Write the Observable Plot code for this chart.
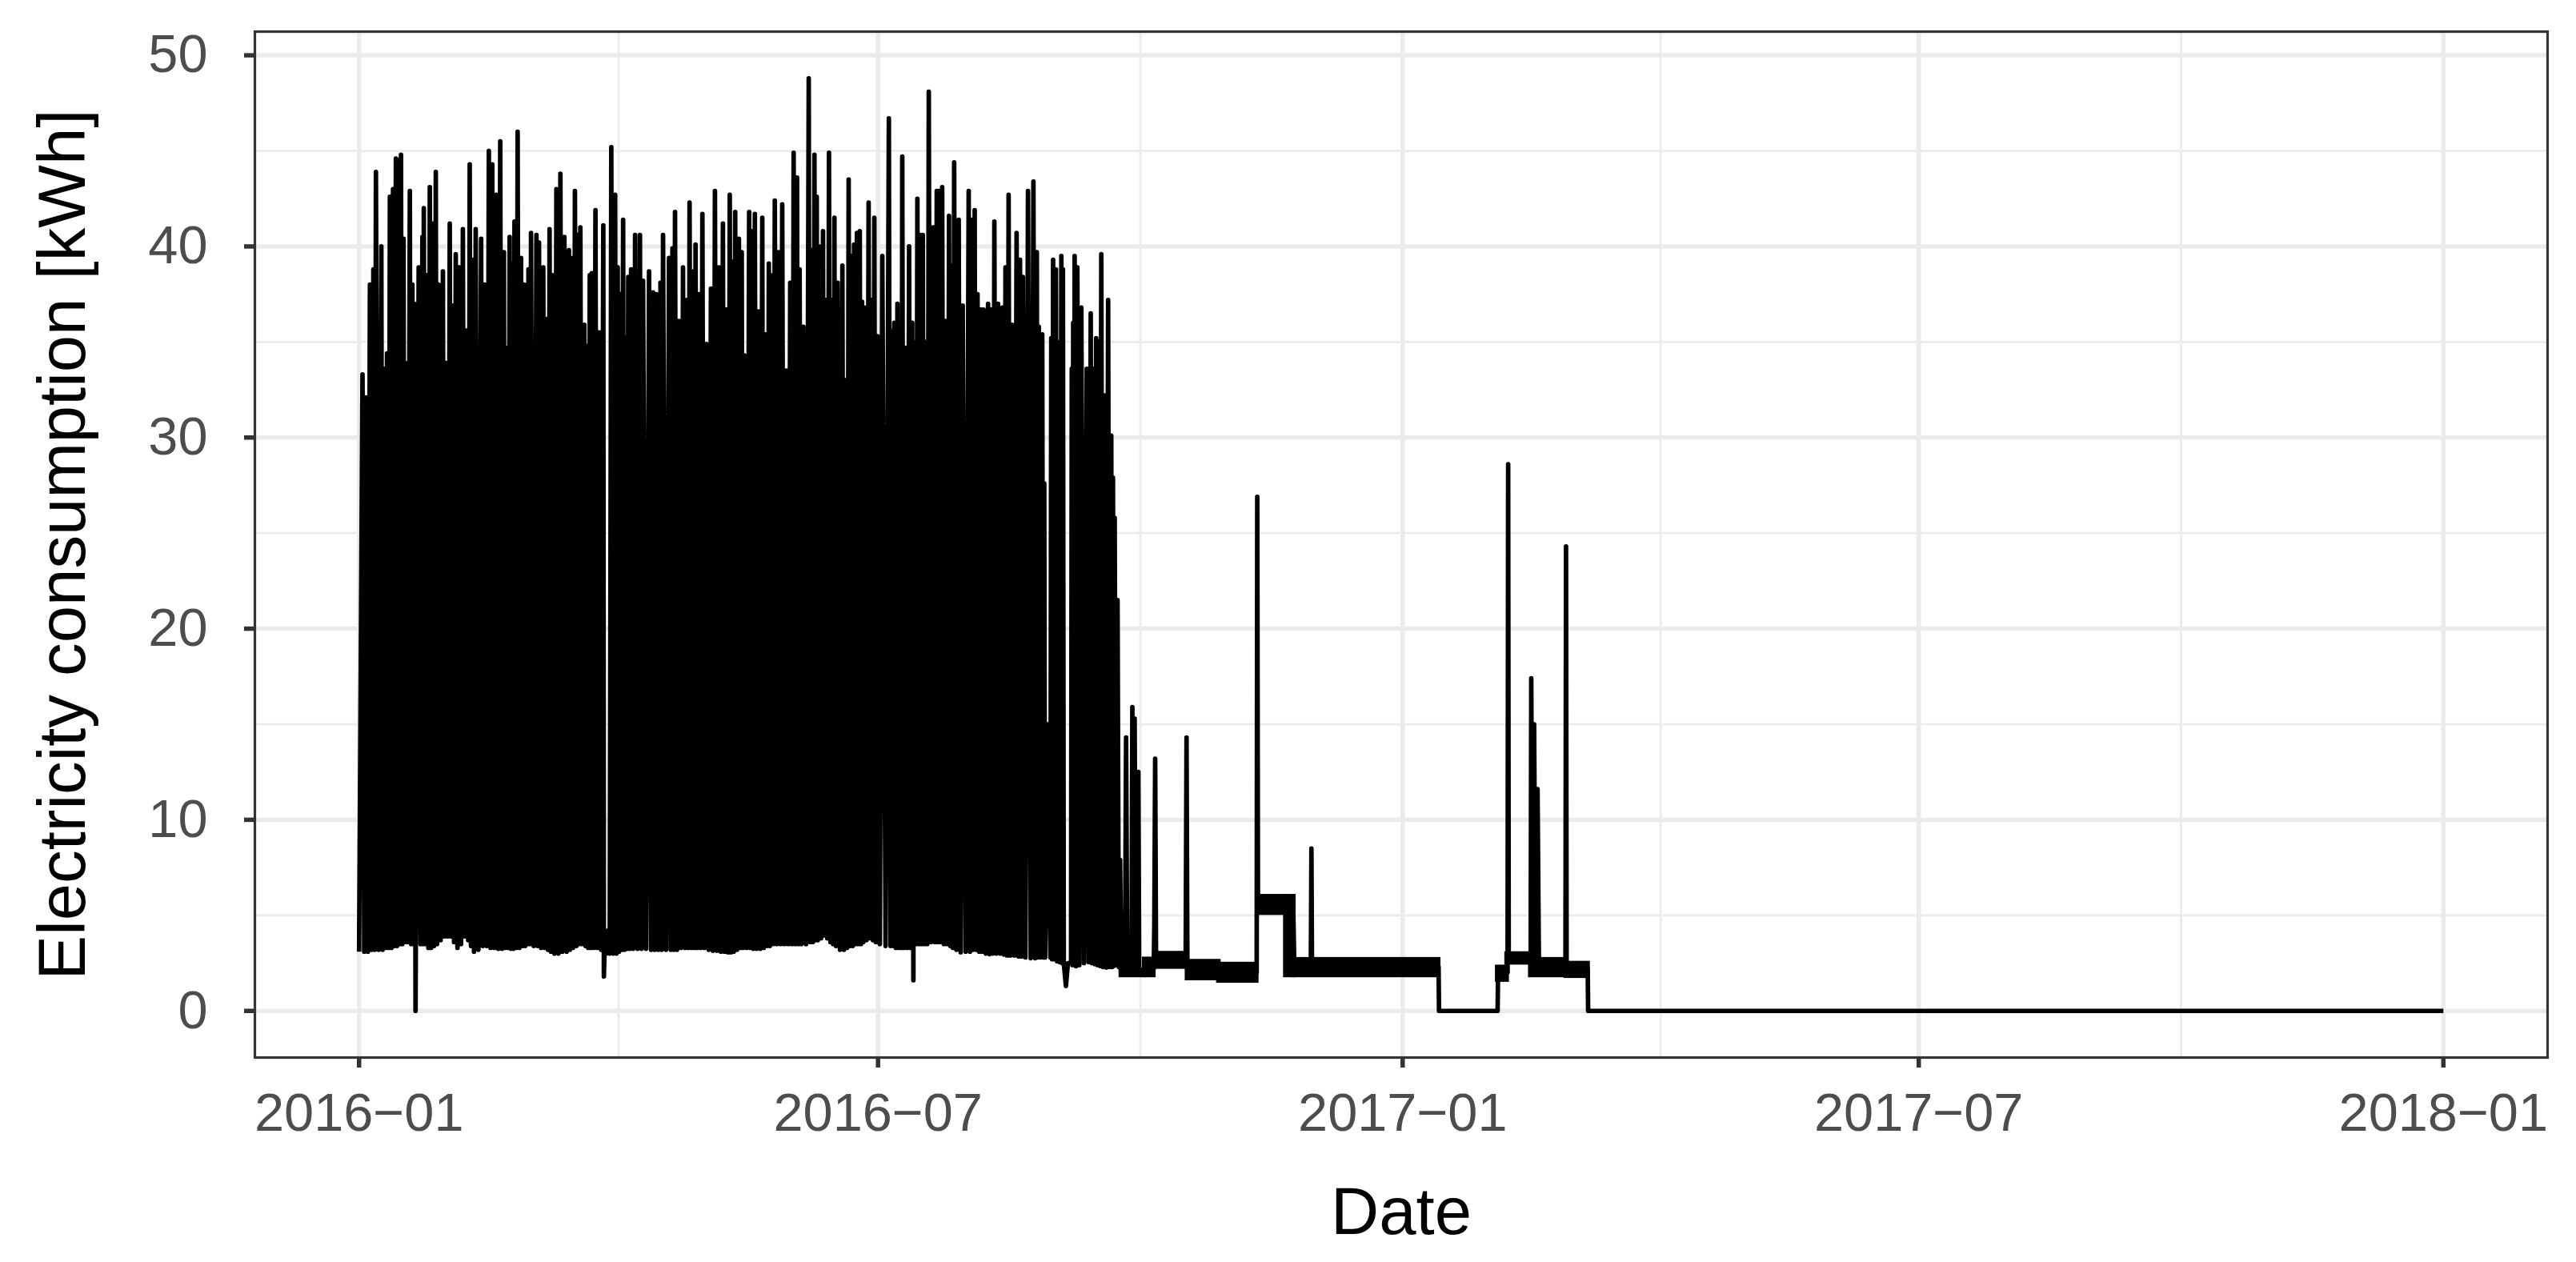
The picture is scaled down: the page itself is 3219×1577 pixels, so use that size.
<!DOCTYPE html>
<html>
<head>
<meta charset="utf-8">
<script src="https://cdn.jsdelivr.net/npm/d3@7"></script>
<script src="https://cdn.jsdelivr.net/npm/@observablehq/plot@0.6"></script>
<style>
  html, body { margin: 0; padding: 0; background: #ffffff; }
</style>
</head>
<body>
<div id="chart"></div>
<script>
// ---------------- DATA ----------------
const startDate = "2016-01-01";

// Consumption readings (peaks and overnight base load):
// [day offset from 1 Jan 2016, kWh]
const winter2016 = [
  [0,3.1],[1.2,33.3],[1.8,3.1],[2.4,32.1],[3.1,3.1],[3.8,38.0],[4.4,3.2],[5.0,38.8],[5.45,3.2],[5.9,43.9],
  [6.85,3.2],[7.8,40.0],[8.25,3.2],[8.7,33.6],[9.25,3.3],[9.8,34.4],[10.3,3.3],[10.8,42.6],[11.35,3.3],[11.9,43.0],
  [12.4,3.4],[12.9,44.6],[13.3,3.4],[13.7,44.5],[14.2,3.5],[14.7,44.8],[15.15,3.5],[15.6,40.4],[15.9,3.6],[16.2,33.9],
  [17.0,3.6],[17.8,42.9],[18.25,3.5],[18.7,38.0],[19.05,3.5],[19.4,37.0],[19.8,0],[20.9,38.9],[21.55,3.5],[22.2,40.5],
  [22.45,3.5],[22.7,42.0],[23.25,3.5],[23.8,38.5],[24.3,3.3],[24.8,43.1],[25.25,3.3],[25.7,41.2],[26.3,3.4],[26.9,43.9],
  [27.35,3.5],[27.8,38.0],[28.6,3.7],[29.4,38.7],[29.9,3.9],[30.4,33.9],[31.1,3.9],[31.8,41.2],[32.25,3.9],[32.7,36.9],
  [33.3,3.6],[33.9,39.6],[34.5,3.3],[35.1,38.9],[35.75,3.5],[36.4,40.9],[37.05,3.9],[37.7,35.6],[38.25,3.7],[38.8,44.3],
  [39.25,3.4],[39.7,39.3],[40.3,3.1],[40.9,40.9],[41.85,3.2],[42.8,40.4],[43.4,3.4],[44.0,38.0],[44.75,3.4],[45.5,45.0],
  [46.1,3.3],[46.7,44.3],[47.4,3.3],[48.1,42.7],[48.8,3.25],[49.5,45.5],[50.15,3.25],[50.8,39.7],[51.1,3.3],[51.4,34.7],
  [52.1,3.3],[52.8,40.5],[53.25,3.25],[53.7,39.1],[54.1,3.25],[54.5,41.3],[55.05,3.3],[55.6,46.0],[56.2,3.3],[56.8,39.4],
  [57.35,3.4],[57.9,38.0],[58.25,3.4],[58.6,34.7],[59.0,3.5],[59.4,38.8],[59.85,3.5],[60.3,40.7],[61.25,3.4],[62.2,40.6],
  [62.65,3.4],[63.1,40.2],[63.85,3.3],[64.6,38.9],[65.15,3.3],[65.7,36.2],[66.25,3.2],[66.8,40.9],[67.3,3.1]
];
const spring2016 = [
  [67.8,38.5],[68.5,3.0],[69.2,43.0],[69.9,3.0],[70.6,43.8],[71.3,3.1],[72.0,40.5],[72.8,3.1],[73.6,39.8],[73.95,3.2],
  [74.3,39.4],[75.0,3.3],[75.7,42.9],[76.2,3.4],[76.7,40.6],[77.15,3.5],[77.6,41.0],[78.3,3.5],[79.0,35.9],[79.4,3.4],
  [79.8,34.8],[80.35,3.3],[80.9,38.5],[81.25,3.3],[81.6,38.6],[82.25,3.3],[82.9,41.9],[83.55,3.3],[84.2,35.5],[84.9,3.2],
  [85.65,41.1],[85.85,1.8],[86.3,4.2],[86.8,3.0],[87.35,4.2],[87.9,3.0],[88.45,45.2],[89.1,3.0],[89.8,42.7],[90.25,3.0],
  [90.7,38.9],[91.15,3.1],[91.6,37.5],[92.1,3.2],[92.6,41.4],[93.05,3.2],[93.5,35.2],[93.95,3.25],[94.4,38.4],[94.9,3.25],
  [95.4,38.8],[96.1,3.25],[96.8,40.6],[97.65,3.25],[98.5,40.6],[99.05,3.25],[99.6,38.2],[100.65,3.25],[101.7,38.7],[102.4,3.2],
  [103.1,37.6],[103.65,3.2],[104.2,37.5],[104.95,3.2],[105.7,38.1],[106.15,3.2],[106.6,40.6],[107.65,3.2],[108.7,39.4],[109.3,3.2],
  [109.9,39.9],[110.35,3.2],[110.8,41.8],[111.5,3.2],[112.2,36.1],[112.9,3.3],[113.6,38.9],[114.3,3.3],[115.0,37.2],[115.45,3.3],
  [115.9,42.3],[116.6,3.3],[117.3,38.7],[117.65,3.3],[118.0,40.1],[118.6,3.3],[119.2,37.5],[119.8,3.3],[120.4,41.7],[121.1,3.3],
  [121.8,34.9],[122.6,3.2],[123.4,37.8],[124.1,3.15],[124.8,42.9],[125.5,3.15],[126.2,38.9],[126.9,3.1],[127.6,41.2],[128.15,3.1],
  [128.7,36.7],[129.35,3.07],[130.0,42.7],[130.45,3.07],[130.9,39.2],[131.4,3.1],[131.9,41.8],[132.55,3.2],[133.2,40.4],[133.7,3.3],
  [134.2,39.7],[134.65,3.3],[135.1,34.3],[135.95,3.3],[136.8,41.8],[137.25,3.3]
];
const summer2016 = [
  [137.7,40.8],[138.25,3.25],[138.8,41.7],[139.4,3.25],[140.0,36.6],[140.7,3.25],[141.4,41.5],[141.9,3.3],[142.4,35.4],[143.05,3.4],
  [143.7,39.1],[144.05,3.4],[144.4,38.5],[145.1,3.5],[145.8,42.4],[146.45,3.5],[147.1,39.7],[147.75,3.5],[148.4,42.2],[149.1,3.5],
  [149.8,33.5],[150.5,3.5],[151.2,38.1],[151.8,3.5],[152.4,44.9],[153.0,3.5],[153.6,43.6],[154.05,3.5],[154.5,38.8],[155.15,3.5],
  [155.8,35.8],[156.75,3.5],[157.7,48.8],[158.15,3.6],[158.6,39.8],[159.15,3.6],[159.7,44.8],[160.1,3.7],[160.5,42.6],[160.9,3.7],
  [161.3,40.0],[162.0,3.8],[162.7,40.8],[163.15,3.95],[163.6,37.2],[164.2,3.8],[164.8,44.9],[165.3,3.6],[165.8,37.2],[166.25,3.5],
  [166.7,41.5],[167.25,3.4],[167.8,38.1],[168.65,3.2],[169.5,39.0],[170.05,3.2],[170.6,33.0],[171.15,3.3],[171.7,43.5],[172.2,3.4],
  [172.7,39.5],[173.15,3.4],[173.6,40.1],[174.1,3.5],[174.6,40.7],[175.1,3.5],[175.6,40.8],[176.0,3.5],[176.4,37.1],[176.8,3.6],
  [177.2,36.8],[177.95,3.7],[178.7,42.3],[179.2,3.8],[179.7,37.2],[180.2,3.7],[180.7,41.5],[181.25,3.6],[181.8,35.3],[182.65,3.5],
  [183.5,39.5],[184.65,3.4],[185.8,46.7],[186.4,3.4],[187.0,35.6],[187.35,3.4],[187.7,36.0],[188.25,3.3],[188.8,37.0],[189.3,3.3],
  [189.8,34.7],[190.15,3.3],[190.5,44.7],[191.05,3.3],[191.6,34.7],[192.25,3.3],[192.9,40.0],[193.45,3.3],[194.0,36.0],[194.4,1.6],
  [194.75,35.0],[195.3,3.5],[195.8,42.5],[196.3,3.5],[196.8,40.6],[197.25,3.5],[197.7,40.6],[198.2,3.5],[198.7,35.0],[199.25,3.5],
  [199.8,48.1],[200.55,3.6],[201.3,41.0],[201.95,3.6],[202.6,42.9],[202.95,3.6],[203.3,42.9],[203.9,3.6],[204.5,43.1],[205.1,3.5],
  [205.7,36.1],[206.3,3.5],[206.9,41.6],[207.35,3.4]
];
const lateSummer2016 = [
  [207.8,39.0],[208.25,3.3],[208.7,44.4],[209.5,3.2],[210.3,41.4],[211.0,3.07],[211.7,36.9],[212.75,3.1],[213.8,42.9],[214.25,3.1],
  [214.7,41.4],[215.3,3.2],[215.9,41.9],[216.4,3.2],[216.9,37.5],[217.5,3.1],[218.1,36.7],[218.55,3.1],[219.0,36.7],[219.8,3.0],
  [220.6,37.0],[221.1,2.97],[221.6,36.7],[222.2,3.0],[222.8,41.3],[223.45,3.0],[224.1,37.0],[224.85,3.0],[225.6,36.8],[226.15,2.95],
  [226.7,38.9],[227.25,2.9],[227.8,42.7],[228.4,2.9],[229.0,35.9],[229.8,2.9],[230.6,40.7],[231.2,2.85],[231.8,39.3],[232.3,2.85],
  [232.8,38.4],[233.7,2.8],[234.6,42.9],[235.55,2.76],[236.5,43.4],[237.1,2.76],[237.7,39.7],[238.05,2.8],[238.4,35.8],[239.0,2.8],
  [239.6,35.4],[239.95,2.8],[240.3,27.6],[240.6,2.8],[241.5,15.0],[242.45,2.8],[242.75,35.2],[243.05,2.7],[243.4,39.3],[243.9,2.7],
  [244.4,38.8],[244.8,2.6],[245.2,35.0],[245.75,2.55],[246.3,39.5],[246.6,2.5],[246.85,38.8],[247.15,2.5],[247.9,1.3],[248.6,2.5],
  [249.7,2.5],[249.95,33.6],[250.2,2.4],[250.45,36.0],[250.7,2.4],[250.95,39.5],[251.45,2.34],[251.9,38.9],[252.6,2.4],[253.3,36.8],
  [254.25,2.5],[255.2,33.6],[255.9,2.55],[256.6,36.5],[257.05,2.5],[257.5,33.6],[258.0,2.45],[258.5,35.2],[258.95,2.4],[259.4,35.0],
  [259.85,2.35],[260.3,39.6],[260.9,2.3],[261.5,32.2],[262.1,2.27],[262.7,37.2],[263.25,2.3],[263.8,30.1],[264.1,2.3],[264.4,27.9],
  [264.7,2.35],[265.0,25.8],[265.5,2.4],[266.0,21.5],[266.45,2.3],[266.9,7.9],[267.3,2.2]
];
const lowLoad = [
  [268.6,2.0],[269.0,14.3],[269.4,2.0],[270.9,2.0],[271.2,15.9],[271.6,2.2],[272.0,15.3],[272.4,2.1],[273.0,2.1],[273.3,12.5],
  [273.6,2.0],[278.7,2.2],[278.9,4.5],[279.2,13.2],[279.5,2.8],[289.9,2.7],[290.2,14.3],[290.5,2.2],[314.8,2.0],[315.0,26.9],[315.25,5.5],
  [327.6,5.5],[328.0,2.3],[333.8,2.3],[334.0,8.5],[334.2,2.3],[378.6,2.3],[378.75,0],[399.3,0],[399.45,1.9],[402.8,2.0],
  [403.0,28.6],[403.2,2.7],[410.9,2.7],[411.1,17.4],[411.5,2.5],[412.1,15.0],[412.6,2.5],[413.3,11.6],[413.8,2.3],[423.1,2.2],
  [423.3,24.3],[423.5,2.2],[430.9,2.2],[431.05,0],[731,0]
];

// Daily min/max band of the hourly line during the low-load period
const bandFrom = [267.3, 275.5, 279.5, 290.5, 301.5, 315.2, 325.0, 327.8, 399.3, 402.6, 410.9, 423.3];
const bandTo   = [275.5, 278.7, 289.9, 301.5, 314.8, 325.0, 327.8, 378.6, 402.6, 410.9, 423.3, 431.0];
const bandLow  = [1.86, 1.86, 2.30, 1.70, 1.57, 5.12, 1.86, 1.86, 1.62, 2.52, 1.86, 1.82];
const bandHigh = [2.13, 2.70, 3.00, 2.58, 2.43, 5.98, 5.98, 2.68, 2.28, 2.98, 2.68, 2.48];

// Axes
const xTicks = ["2016-01-01", "2016-07-01", "2017-01-01", "2017-07-01", "2018-01-01"];
const xTickLabels = ["2016\u221201", "2016\u221207", "2017\u221201", "2017\u221207", "2018\u221201"];
const xMinor = ["2016-04-01", "2016-10-01", "2017-04-01T12:00:00Z", "2017-10-01"];
const yTicks = [0, 10, 20, 30, 40, 50];
const yMinor = [5, 15, 25, 35, 45];
const xLabel = "Date";
const yLabel = "Electricity consumption [kWh]";

// ---------------- BUILD ----------------
const DAY = 86400000;
const t0 = +new Date(startDate);
const toDate = d => new Date(t0 + d * DAY);

const series = [...winter2016, ...spring2016, ...summer2016, ...lateSummer2016, ...lowLoad]
  .map(([d, v]) => ({date: toDate(d), kwh: v}));
const bands = bandFrom.map((f, i) => ({x1: toDate(f), x2: toDate(bandTo[i]), y1: bandLow[i], y2: bandHigh[i]}));

const xTickDates = xTicks.map(s => new Date(s));
const xMinorDates = xMinor.map(s => new Date(s));
const span = +xTickDates[xTickDates.length - 1] - t0;
const xDomain = [new Date(t0 - 0.05 * span), new Date(+xTickDates[xTickDates.length - 1] + 0.05 * span)];
const ymax = d3.max(series, d => d.kwh);
const yDomain = [-0.05 * ymax, ymax * 1.05];

const grid = "#EBEBEB";
const dark = "#333333";
const LW = 5.7;

const chart = Plot.plot({
  width: 3219,
  height: 1577,
  marginLeft: 318,
  marginRight: 36,
  marginTop: 39,
  marginBottom: 256,
  style: {fontFamily: "'Liberation Sans', Arial, Helvetica, sans-serif", background: "#ffffff", overflow: "visible"},
  x: {type: "utc", domain: xDomain},
  y: {domain: yDomain},
  marks: [
    Plot.ruleX(xMinorDates, {x: d => d, stroke: grid, strokeWidth: 2.7}),
    Plot.ruleY(yMinor, {y: d => d, stroke: grid, strokeWidth: 2.7}),
    Plot.ruleX(xTickDates, {x: d => d, stroke: grid, strokeWidth: 5.5}),
    Plot.ruleY(yTicks, {y: d => d, stroke: grid, strokeWidth: 5.5}),
    Plot.rect(bands, {x1: "x1", x2: "x2", y1: "y1", y2: "y2", fill: "black", stroke: "black", strokeWidth: LW}),
    Plot.line(series, {x: "date", y: "kwh", stroke: "black", strokeWidth: LW, strokeLinejoin: "round", strokeLinecap: "butt"}),
    Plot.frame({stroke: dark, strokeWidth: 3.2}),
    Plot.axisX(xTickDates, {
      tickSize: 13, tickPadding: 31, stroke: dark, strokeWidth: 5.5,
      fill: "#4D4D4D", fontSize: 66.7, label: null,
      tickFormat: d => xTickLabels[xTickDates.findIndex(t => +t === +d)]
    }),
    Plot.axisY(yTicks, {
      tickSize: 13, tickPadding: 46, stroke: dark, strokeWidth: 5.5,
      fill: "#4D4D4D", fontSize: 66.7, label: null, tickFormat: d => String(d)
    }),
    Plot.text([xLabel], {text: d => d, frameAnchor: "bottom", dy: 161, lineAnchor: "top", textAnchor: "middle", fontSize: 83.3, fill: "black"}),
    Plot.text([yLabel], {text: d => d, frameAnchor: "left", dx: -272, rotate: -90, lineAnchor: "top", textAnchor: "middle", fontSize: 83.3, fill: "black"})
  ]
});
document.getElementById("chart").appendChild(chart);
</script>
</body>
</html>
